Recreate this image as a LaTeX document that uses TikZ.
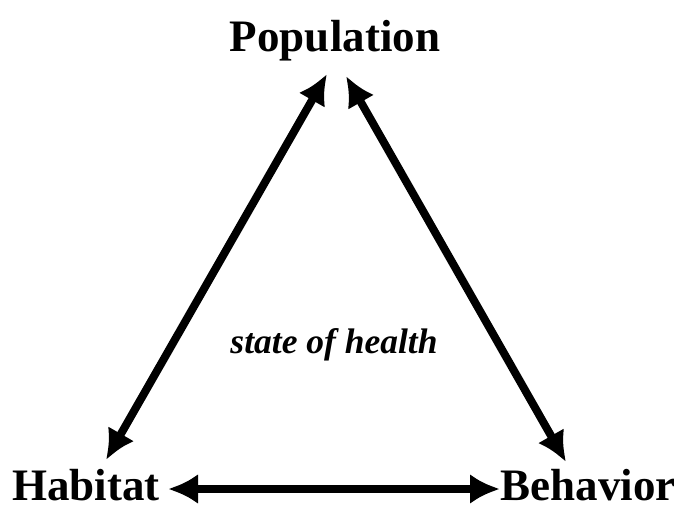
\documentclass[tikz,border=0pt]{standalone}
\usepackage{fontspec}
\setmainfont{Liberation Serif}
\usetikzlibrary{arrows.meta}
\begin{document}
\begin{tikzpicture}[x=1pt,y=-1pt,
  lbl/.style={font=\fontsize{45}{50}\selectfont\bfseries, inner sep=0pt, anchor=base},
  link/.style={line width=8pt, {Latex[length=30pt,width=30pt]}-{Latex[length=30pt,width=30pt]}}]
\useasboundingbox[fill=white] (0,0) rectangle (681,509);
\node[lbl] (pop) at (335,51) {Population};
\node[lbl] (hab) at (86,500) {Habitat};
\node[lbl] (beh) at (588,500) {Behavior};
\node[font=\fontsize{35.5}{40}\selectfont\bfseries\itshape, inner sep=0pt] (soh) at (334,345) {state of health};
\coordinate (pl) at (327,74);
\coordinate (pr) at (346,76);
\coordinate (hl) at (106,460);
\coordinate (br) at (566,462);
\coordinate (hb) at (168,489);
\coordinate (bh) at (500,489);
\draw[link] (pl) -- (hl);
\draw[link] (pr) -- (br);
\draw[link] (hb) -- (bh);
\end{tikzpicture}
\end{document}
